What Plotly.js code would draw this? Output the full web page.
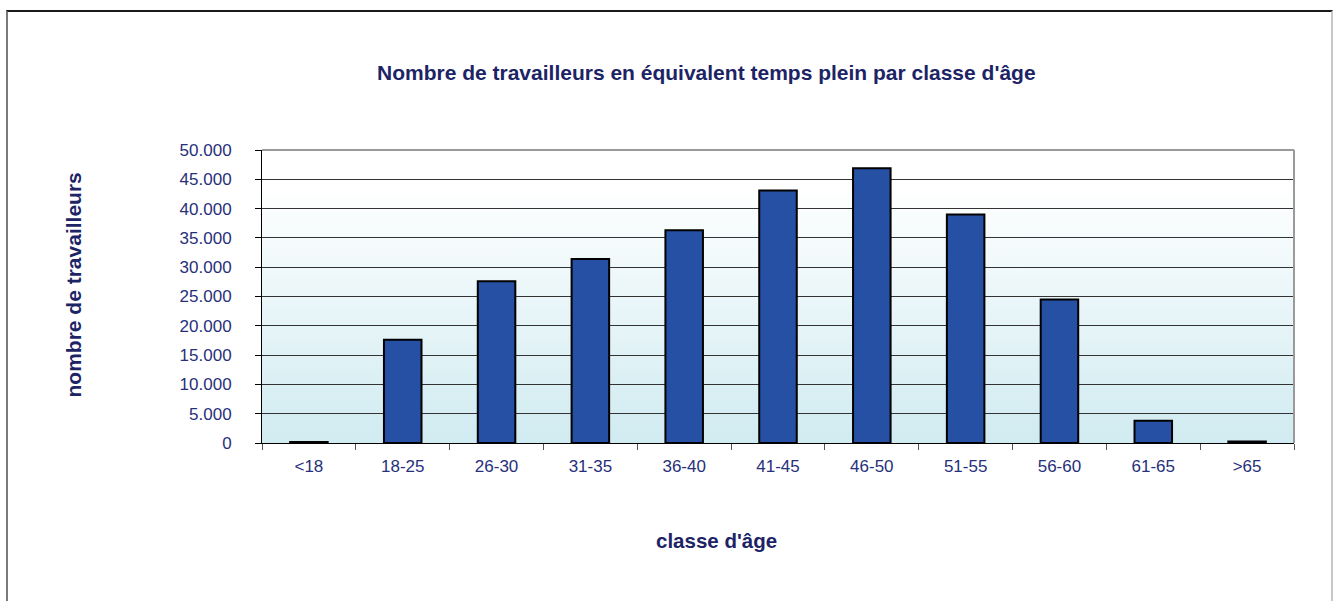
<!DOCTYPE html>
<html>
<head>
<meta charset="utf-8">
<script src="https://cdn.plot.ly/plotly-3.0.1.min.js"></script>
<style>
html,body{margin:0;padding:0;background:#fff;}
#wrap{position:relative;width:1337px;height:601px;overflow:hidden;}
#frame{position:absolute;left:6px;top:10px;width:1327px;height:620px;border-top:2px solid #1a1a1a;border-left:2px solid #7a7a7a;border-right:2px solid #c8c8c8;box-sizing:border-box;pointer-events:none;z-index:5;}
#chart{position:absolute;left:0;top:0;width:1337px;height:601px;}
</style>
</head>
<body>
<div id="wrap"><div id="chart"></div><div id="frame"></div></div>
<script>
const categories = ['<18','18-25','26-30','31-35','36-40','41-45','46-50','51-55','56-60','61-65','>65'];
const workers = [150, 17600, 27600, 31400, 36300, 43100, 46900, 39000, 24500, 3800, 250];
const yTicks = [0, 5000, 10000, 15000, 20000, 25000, 30000, 35000, 40000, 45000, 50000];

const chartTitle = 'Nombre de travailleurs en équivalent temps plein par classe d\'âge';
const xTitle = 'classe d\'âge';
const yTitle = 'nombre de travailleurs';

const navy = '#1c2466';
const labelColor = '#27307a';

const gradSvg = '<svg xmlns="http://www.w3.org/2000/svg" width="100" height="100" preserveAspectRatio="none">' +
  '<defs><linearGradient id="g" x1="0" y1="0" x2="0" y2="1">' +
  '<stop offset="0" stop-color="#ffffff"/><stop offset="0.12" stop-color="#ffffff"/>' +
  '<stop offset="1" stop-color="#d0ebf1"/></linearGradient></defs>' +
  '<rect width="100" height="100" fill="url(#g)"/></svg>';
const gradUri = 'data:image/svg+xml;base64,' + btoa(gradSvg);

const trace = {
  type: 'bar',
  x: categories,
  y: workers,
  marker: {color: '#2550a3', line: {color: '#000000', width: 2}},
  hoverinfo: 'x+y'
};

const layout = {
  width: 1337, height: 601,
  margin: {l: 262, r: 43, t: 150, b: 158},
  paper_bgcolor: '#ffffff',
  plot_bgcolor: 'rgba(0,0,0,0)',
  separators: ',.',
  bargap: 0.6,
  showlegend: false,
  font: {family: 'Liberation Sans, Arial, sans-serif', color: labelColor},
  images: [{
    source: gradUri, xref: 'paper', yref: 'paper', x: 0, y: 1,
    sizex: 1, sizey: 1, sizing: 'stretch', xanchor: 'left', yanchor: 'top', layer: 'below'
  }],
  xaxis: {
    type: 'category',
    showgrid: false,
    showline: true, linecolor: '#000000', linewidth: 1,
    ticks: 'outside', ticklen: 6, tickcolor: '#555555', tickwidth: 1,
    tickson: 'boundaries',
    tickfont: {size: 17, color: labelColor},
    ticklabelstandoff: 8,
    mirror: false,
    fixedrange: true
  },
  yaxis: {
    range: [0, 50000],
    tickvals: yTicks,
    tickformat: ',d',
    showgrid: true, gridcolor: '#333333', gridwidth: 1,
    showline: true, linecolor: '#000000', linewidth: 1,
    ticks: 'outside', ticklen: 6, tickcolor: '#000000',
    tickfont: {size: 17, color: labelColor},
    ticklabelstandoff: 20,
    zeroline: false,
    fixedrange: true
  },
  shapes: [
    {type: 'line', xref: 'paper', yref: 'paper', x0: 0, x1: 1, y0: 1, y1: 1, line: {color: '#9a9a9a', width: 2}},
    {type: 'line', xref: 'paper', yref: 'paper', x0: 1, x1: 1, y0: 0, y1: 1, line: {color: '#9a9a9a', width: 2}}
  ],
  annotations: [
    {text: '<b>' + chartTitle + '</b>', xref: 'paper', yref: 'paper', x: 0.431, y: 1.266,
     xanchor: 'center', yanchor: 'middle', showarrow: false, font: {size: 21, color: navy}},
    {text: '<b>' + xTitle + '</b>', xref: 'paper', yref: 'paper', x: 0.44, y: -0.334,
     xanchor: 'center', yanchor: 'middle', showarrow: false, font: {size: 20.5, color: navy}},
    {text: '<b>' + yTitle + '</b>', xref: 'paper', yref: 'paper', x: -0.183, y: 0.538,
     xanchor: 'center', yanchor: 'middle', textangle: -90, showarrow: false, font: {size: 21, color: navy}}
  ]
};

Plotly.newPlot('chart', [trace], layout, {displayModeBar: false, staticPlot: true});
</script>
</body>
</html>
